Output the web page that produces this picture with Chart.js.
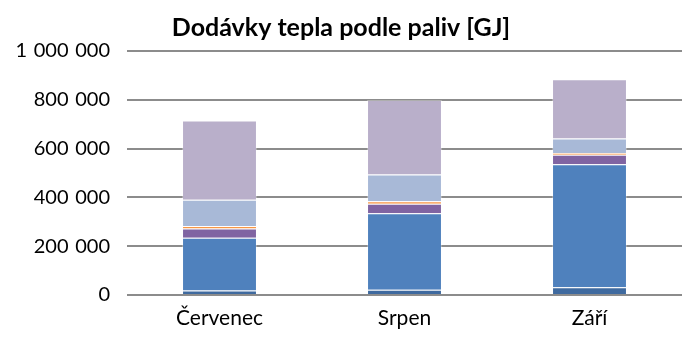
<!DOCTYPE html>
<html>
<head>
<meta charset="utf-8">
<script src="https://cdn.jsdelivr.net/npm/chart.js@4/dist/chart.umd.min.js"></script>
<style>
  html, body { margin: 0; padding: 0; background: #fff; }
  #wrap { width: 682px; height: 337px; }
</style>
</head>
<body>
<div id="wrap"><canvas id="heatChart"></canvas></div>
<script>
// months and heat supply by fuel [GJ], stacked bottom to top
const months = ["Červenec", "Srpen", "Září"];
const fuelA = [18000, 22000, 32000];
const fuelB = [217000, 313000, 504000];
const fuelC = [38000, 39000, 39000];
const fuelD = [10000, 10000, 7000];
const fuelE = [107000, 110000, 59000];
const fuelF = [325000, 305000, 243000];

const yTicks = [0, 200000, 400000, 600000, 800000, 1000000];

const fontFam = "Lato, 'Open Sans', sans-serif";

function fmt(v) {
    // thousands grouped with a space
    return String(v).replace(/\B(?=(\d{3})+(?!\d))/g, "\u2004");
}

function ds(data, color) {
    return {
        data: data,
        backgroundColor: color,
        borderColor: "rgba(255,255,255,0.3)",
        borderWidth: { top: 1, left: 1, right: 1, bottom: 0 },
        borderSkipped: false,
        barPercentage: 0.405,
        categoryPercentage: 1.0
    };
}

new Chart(document.getElementById("heatChart").getContext("2d"), {
    type: 'bar',
    data: {
        labels: months,
        datasets: [
            ds(fuelA, "#3f6a9f"),
            ds(fuelB, "#4f81bd"),
            ds(fuelC, "#8064a2"),
            ds(fuelD, "#f79646"),
            ds(fuelE, "#a8b9d7"),
            ds(fuelF, "#b9afca")
        ]
    },
    options: {
        responsive: true,
        maintainAspectRatio: false,
        animation: false,
        layout: { padding: { left: 0, right: 0, top: 0, bottom: 0 } },
        plugins: {
            legend: { display: false },
            tooltip: { enabled: false },
            title: {
                display: true,
                text: "Dodávky tepla podle paliv [GJ]",
                color: "#000",
                font: { family: fontFam, size: 25, weight: "bold" },
                padding: { top: 13, bottom: 8 }
            }
        },
        scales: {
            x: {
                stacked: true,
                grid: { display: false, drawTicks: false },
                border: { display: false },
                ticks: { color: "#000", font: { family: fontFam, size: 21 }, padding: 11 },
                afterFit: (axis) => { axis.height = 42; }
            },
            y: {
                stacked: true,
                min: 0,
                max: 1000000,
                afterBuildTicks: (axis) => { axis.ticks = yTicks.map(v => ({ value: v })); },
                grid: { color: "#8c8c8c", lineWidth: 2, drawTicks: false },
                border: { display: false },
                ticks: {
                    color: "#000",
                    font: { family: fontFam, size: 20 },
                    padding: 17,
                    callback: (v) => fmt(v)
                },
                afterFit: (axis) => { axis.width = 127; }
            }
        }
    }
});
</script>
</body>
</html>
